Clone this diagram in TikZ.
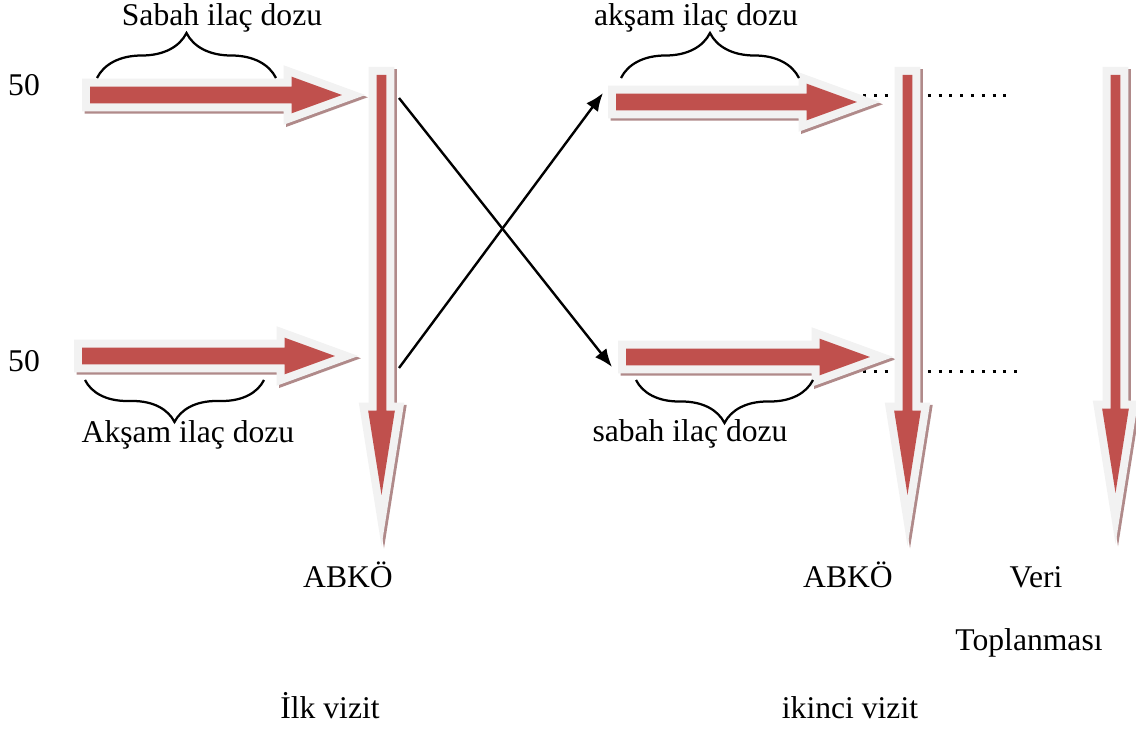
\documentclass[tikz,border=0pt]{standalone}
\usepackage{fontspec}
\setmainfont{Liberation Serif}
\usepackage{tikz}
\usetikzlibrary{shapes.arrows}
\usetikzlibrary{decorations.pathreplacing}
\usetikzlibrary{arrows.meta}
\definecolor{doseRed}{HTML}{C0504D}
\definecolor{doseHalo}{HTML}{F2F2F2}
\definecolor{doseShadow}{HTML}{B08A8A}
\tikzset{
dose/.style={
  single arrow,
  inner sep=0pt, outer sep=0pt,
  fill=doseRed, anchor=tail,
  text depth=0pt,
  preaction={draw=doseShadow,line width=0.32cm,transform canvas={shift={(0.05cm,-0.045cm)}}},
  preaction={draw=doseHalo,line width=0.32cm}
},
across/.style={dose,text height=0.32cm,
  single arrow head extend=0.2cm,single arrow tip angle=40},
down/.style={dose,rotate=-90,text height=0.18cm,
  single arrow head extend=0.17cm,single arrow tip angle=18},
lbl/.style={anchor=base,font=\fontsize{18}{22}\selectfont},
dosebrace/.style={decorate,decoration={brace,amplitude=#1},line width=0.045cm},
cross/.style={line width=0.048cm,-{Latex[length=0.36cm,width=0.29cm]}},
dots/.style={line width=0.06cm,dash pattern=on 0.06cm off 0.156cm}
}

\begin{document}
\begin{tikzpicture}[x=0.02cm,y=-0.02cm]
\useasboundingbox (0,0) rectangle (1136,729);
% the dotted lines (behind the arrows)
\coordinate (d1s) at (863,96);  \coordinate (d1e) at (1014,96);
\coordinate (d2s) at (863,372); \coordinate (d2e) at (1022,372);
\draw[dots] (d1s) -- (d1e);
\draw[dots] (d2s) -- (d2e);
% the big arrows
\node[across,minimum height=5.04cm] (morning1) at (90,95) {};
\node[across,minimum height=5.06cm] (evening1) at (82,356) {};
\node[across,minimum height=4.82cm] (evening2) at (616,102) {};
\node[across,minimum height=4.88cm] (morning2) at (626,357) {};
\node[down,minimum height=8.4cm]  (visit1) at (381.5,75) {};
\node[down,minimum height=8.4cm]  (visit2) at (907.5,75) {};
\node[down,minimum height=8.36cm] (collect) at (1115.5,75) {};
% the braces
\draw[dosebrace=0.9cm] (97,78) -- (276,78);
\draw[dosebrace=0.9cm] (621,78) -- (799,78);
\draw[dosebrace=0.84cm] (264,380) -- (85,380);
\draw[dosebrace=0.86cm] (813,380) -- (636,380);
% the crossing arrows
\coordinate (x1s) at (399,98);  \coordinate (x1e) at (612,367);
\coordinate (x2s) at (399,368); \coordinate (x2e) at (603,93);
\draw[cross] (x1s) -- (x1e);
\draw[cross] (x2s) -- (x2e);
% the labels
\node[lbl] (n50a) at (24,96) {50};
\node[lbl] (n50b) at (24,372) {50};
\node[lbl] (lblSabah) at (222,26) {Sabah ilaç dozu};
\node[lbl] (lblAksamR) at (696,26) {akşam ilaç dozu};
\node[lbl] (lblAksam) at (188,442) {Akşam ilaç dozu};
\node[lbl] (lblSabahR) at (690,441) {sabah ilaç dozu};
\node[lbl] (abko1) at (348,587) {ABKÖ};
\node[lbl] (abko2) at (848,587) {ABKÖ};
\node[lbl] (veri) at (1036,587) {Veri};
\node[lbl] (toplanma) at (1029,650) {Toplanması};
\node[lbl] (vizit1) at (330,718) {İlk vizit};
\node[lbl] (vizit2) at (850,718) {ikinci vizit};
\end{tikzpicture}
\end{document}
